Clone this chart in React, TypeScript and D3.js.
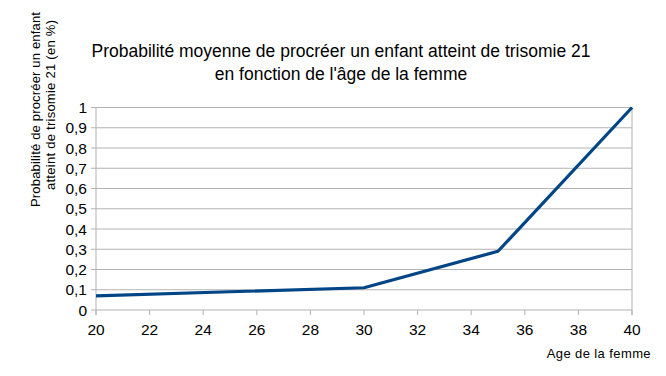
import React from "react";
import * as d3 from "d3";

const ages = [20, 25, 30, 35, 40];
const probabilities = [0.07, 0.09, 0.11, 0.29, 1.0];
const xTicks = [20, 22, 24, 26, 28, 30, 32, 34, 36, 38, 40];
const yTicks = [0, 0.1, 0.2, 0.3, 0.4, 0.5, 0.6, 0.7, 0.8, 0.9, 1];
const titleLines = [
  "Probabilité moyenne de procréer un enfant atteint de trisomie 21",
  "en fonction de l'âge de la femme",
];
const yTitleLines = ["Probabilité de procréer un enfant", "atteint de trisomie 21 (en %)"];
const xTitle = "Age de la femme";

export default function App() {
  const W = 666, H = 376;
  const x = d3.scaleLinear().domain([20, 40]).range([96, 632]);
  const y = d3.scaleLinear().domain([0, 1]).range([310, 107.5]);
  const data = ages.map((a, i) => [a, probabilities[i]] as [number, number]);
  const line = d3.line<[number, number]>().x((d) => x(d[0])).y((d) => y(d[1]));
  const font = "'Liberation Sans', Arial, sans-serif";
  const grid = "#b3b3b3";
  const yTitlePos = [
    { x: 40, cy: 109.5, len: 195 },
    { x: 55, cy: 105, len: 170 },
  ];
  return (
    <svg width={W} height={H} style={{ position: "absolute", left: 0, top: 0, background: "#fff" }} fontFamily={font}>
      <rect width={W} height={H} fill="#fff" />
      {titleLines.map((t, i) => (
        <text key={i} x={341} y={57 + i * 23} textAnchor="middle" fontSize={17.5} fill="#000">{t}</text>
      ))}
      {yTitleLines.map((t, i) => (
        <text key={i} transform={`translate(${yTitlePos[i].x},${yTitlePos[i].cy}) rotate(-90)`} textAnchor="middle" fontSize={13} textLength={yTitlePos[i].len} lengthAdjust="spacing" fill="#000">{t}</text>
      ))}
      {yTicks.map((v) => (
        <g key={v}>
          <line x1={x(20) - 5} x2={x(40)} y1={y(v)} y2={y(v)} stroke={grid} strokeWidth={1} />
          <text x={87} y={y(v) + 5.5} textAnchor="end" fontSize={15.5} fill="#000">{String(v).replace(".", ",")}</text>
        </g>
      ))}
      <line x1={x(20)} x2={x(20)} y1={y(1)} y2={y(0) + 5} stroke={grid} />
      <line x1={x(40)} x2={x(40)} y1={y(1)} y2={y(0) + 5} stroke={grid} />
      {xTicks.map((v) => (
        <g key={v}>
          <line x1={x(v)} x2={x(v)} y1={y(0)} y2={y(0) + 5} stroke={grid} />
          <text x={x(v)} y={335} textAnchor="middle" fontSize={15.5} fill="#000">{v}</text>
        </g>
      ))}
      <path d={line(data) || ""} fill="none" stroke="#004586" strokeWidth={3.2} strokeLinejoin="round" />
      <text x={651} y={358} textAnchor="end" fontSize={13} letterSpacing={0.4} fill="#000">{xTitle}</text>
    </svg>
  );
}
